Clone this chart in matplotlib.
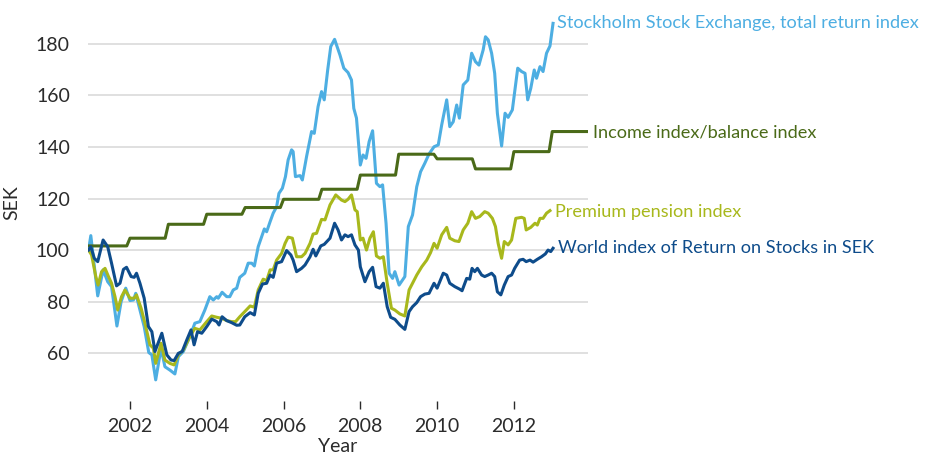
import matplotlib

matplotlib.use("Agg")
import matplotlib.pyplot as plt
import numpy as np

plt.rcParams["font.family"] = ["Lato", "DejaVu Sans"]

# Stockholm Stock Exchange, total return index
sx_years = [2000.92, 2000.98, 2001.16, 2001.30, 2001.42, 2001.52, 2001.66, 2001.77,
            2001.89, 2002.00, 2002.09, 2002.15, 2002.26, 2002.37, 2002.49, 2002.57,
            2002.67, 2002.81, 2002.91, 2003.04, 2003.17, 2003.26, 2003.39, 2003.56,
            2003.69, 2003.82, 2003.95, 2004.08, 2004.17, 2004.26, 2004.30, 2004.40,
            2004.52, 2004.60, 2004.69, 2004.78, 2004.86, 2004.99, 2005.08, 2005.17,
            2005.24, 2005.34, 2005.50, 2005.56, 2005.65, 2005.73, 2005.82, 2005.88,
            2005.97, 2006.05, 2006.12, 2006.21, 2006.25, 2006.31, 2006.43, 2006.49,
            2006.60, 2006.73, 2006.80, 2006.90, 2006.99, 2007.06, 2007.15, 2007.23,
            2007.33, 2007.47, 2007.57, 2007.68, 2007.77, 2007.83, 2007.90, 2008.00,
            2008.07, 2008.15, 2008.23, 2008.32, 2008.42, 2008.51, 2008.58, 2008.67,
            2008.75, 2008.84, 2008.90, 2009.01, 2009.16, 2009.25, 2009.36, 2009.47,
            2009.57, 2009.68, 2009.79, 2009.92, 2010.03, 2010.12, 2010.25, 2010.33,
            2010.42, 2010.51, 2010.58, 2010.68, 2010.80, 2010.90, 2011.00, 2011.09,
            2011.20, 2011.26, 2011.33, 2011.42, 2011.50, 2011.57, 2011.68, 2011.77,
            2011.85, 2011.96, 2012.10, 2012.20, 2012.29, 2012.36, 2012.44, 2012.53,
            2012.59, 2012.68, 2012.76, 2012.85, 2012.94, 2013.02]
sx_vals = [100.0, 105.6, 82.2, 92.3, 87.7, 85.8, 70.5, 80.0,
           85.2, 80.4, 80.6, 83.2, 76.7, 70.3, 60.2, 59.3,
           49.6, 61.9, 54.7, 53.4, 51.9, 58.6, 60.6, 66.4,
           71.6, 72.2, 76.7, 81.9, 80.6, 81.9, 81.3, 83.6,
           81.9, 81.9, 84.5, 85.2, 89.4, 91.0, 94.9, 94.9,
           93.8, 101.3, 108.2, 107.1, 111.0, 114.3, 116.8, 122.0,
           124.0, 128.5, 135.0, 138.9, 138.2, 128.5, 128.9, 127.2,
           136.3, 146.0, 145.3, 155.7, 161.5, 158.3, 169.9, 179.0,
           181.8, 175.7, 170.6, 168.9, 166.0, 155.0, 151.2, 133.0,
           136.9, 135.6, 142.1, 146.3, 125.9, 124.6, 125.3, 110.4,
           91.0, 89.0, 91.6, 86.4, 89.7, 109.1, 113.6, 124.6,
           130.4, 133.7, 137.3, 140.1, 140.8, 148.6, 158.3, 147.9,
           149.8, 156.3, 151.2, 164.1, 166.0, 176.4, 173.1, 171.8,
           177.7, 182.8, 181.6, 176.4, 168.6, 153.1, 140.4, 153.1,
           151.5, 154.4, 170.6, 169.3, 168.6, 158.3, 162.8, 169.9,
           166.7, 171.2, 169.3, 176.4, 179.2, 188.0]

# World index of Return on Stocks in SEK
wd_years = [2000.92, 2000.98, 2001.07, 2001.16, 2001.30, 2001.42, 2001.52, 2001.65,
            2001.74, 2001.83, 2001.91, 2002.03, 2002.11, 2002.17, 2002.26, 2002.37,
            2002.48, 2002.57, 2002.65, 2002.83, 2002.96, 2003.07, 2003.15, 2003.26,
            2003.36, 2003.48, 2003.59, 2003.67, 2003.76, 2003.87, 2004.00, 2004.13,
            2004.26, 2004.32, 2004.40, 2004.52, 2004.65, 2004.78, 2004.86, 2004.99,
            2005.13, 2005.24, 2005.34, 2005.45, 2005.56, 2005.65, 2005.73, 2005.82,
            2005.95, 2006.08, 2006.19, 2006.25, 2006.34, 2006.47, 2006.56, 2006.69,
            2006.77, 2006.84, 2006.97, 2007.06, 2007.21, 2007.33, 2007.42, 2007.51,
            2007.60, 2007.68, 2007.77, 2007.86, 2007.95, 2008.00, 2008.12, 2008.23,
            2008.32, 2008.41, 2008.51, 2008.60, 2008.70, 2008.79, 2008.90, 2009.03,
            2009.16, 2009.27, 2009.36, 2009.47, 2009.57, 2009.68, 2009.79, 2009.92,
            2010.00, 2010.16, 2010.25, 2010.33, 2010.46, 2010.59, 2010.65, 2010.77,
            2010.85, 2010.91, 2010.98, 2011.05, 2011.16, 2011.24, 2011.33, 2011.42,
            2011.50, 2011.57, 2011.66, 2011.75, 2011.85, 2011.94, 2012.02, 2012.15,
            2012.24, 2012.32, 2012.42, 2012.50, 2012.61, 2012.72, 2012.82, 2012.89,
            2012.96, 2013.02]
wd_vals = [100.0, 101.3, 96.8, 95.5, 103.9, 101.3, 94.9, 86.1,
           87.1, 92.5, 93.3, 89.7, 89.4, 91.0, 87.1, 81.3,
           70.3, 68.3, 60.6, 67.7, 59.3, 57.3, 57.1, 59.9,
           60.6, 65.1, 69.0, 63.2, 68.3, 67.7, 70.3, 73.2,
           72.2, 70.9, 74.1, 72.6, 71.8, 70.8, 70.9, 74.1,
           75.7, 74.8, 83.2, 86.8, 87.1, 90.3, 89.4, 94.9,
           95.5, 99.8, 98.1, 96.1, 91.6, 92.9, 94.2, 97.4,
           100.3, 97.7, 101.6, 102.2, 104.6, 110.4, 107.8, 103.9,
           105.9, 105.2, 105.9, 102.0, 100.0, 93.5, 87.7, 91.6,
           93.3, 85.8, 85.2, 87.1, 78.0, 73.9, 73.1, 70.9,
           69.2, 76.1, 78.0, 79.6, 81.9, 82.9, 83.2, 87.1,
           85.2, 91.0, 90.3, 87.1, 85.8, 84.8, 84.2, 89.0,
           88.7, 92.9, 91.6, 92.9, 90.3, 89.7, 90.3, 91.0,
           89.7, 83.8, 82.6, 86.4, 89.7, 90.3, 92.9, 96.1,
           96.4, 95.5, 96.1, 95.3, 96.4, 97.4, 98.5, 100.0,
           99.4, 100.7]

# Premium pension index
pp_years = [2000.92, 2001.00, 2001.11, 2001.17, 2001.26, 2001.35, 2001.44, 2001.52,
            2001.61, 2001.68, 2001.78, 2001.87, 2002.00, 2002.11, 2002.17, 2002.29,
            2002.39, 2002.52, 2002.61, 2002.67, 2002.81, 2002.91, 2003.04, 2003.15,
            2003.26, 2003.39, 2003.56, 2003.69, 2003.82, 2004.00, 2004.13, 2004.26,
            2004.39, 2004.52, 2004.65, 2004.75, 2004.86, 2004.99, 2005.13, 2005.24,
            2005.34, 2005.47, 2005.56, 2005.65, 2005.73, 2005.82, 2005.95, 2006.04,
            2006.12, 2006.23, 2006.34, 2006.47, 2006.56, 2006.69, 2006.77, 2006.86,
            2006.99, 2007.08, 2007.21, 2007.36, 2007.51, 2007.60, 2007.68, 2007.77,
            2007.86, 2007.92, 2008.00, 2008.07, 2008.16, 2008.25, 2008.34, 2008.42,
            2008.51, 2008.60, 2008.70, 2008.81, 2008.90, 2009.03, 2009.16, 2009.27,
            2009.36, 2009.47, 2009.60, 2009.73, 2009.83, 2009.92, 2010.00, 2010.12,
            2010.25, 2010.33, 2010.46, 2010.57, 2010.68, 2010.80, 2010.90, 2011.00,
            2011.11, 2011.24, 2011.33, 2011.44, 2011.52, 2011.59, 2011.68, 2011.75,
            2011.85, 2011.94, 2012.05, 2012.20, 2012.27, 2012.32, 2012.44, 2012.55,
            2012.61, 2012.68, 2012.76, 2012.85, 2012.94]
pp_vals = [100.0, 98.1, 89.7, 86.4, 91.6, 92.9, 89.7, 87.1,
           81.9, 76.7, 81.9, 84.5, 81.3, 81.3, 82.6, 77.4,
           71.6, 63.2, 61.9, 56.0, 63.8, 57.3, 56.0, 55.4,
           59.3, 61.2, 66.4, 69.6, 69.0, 72.2, 74.4, 73.9,
           73.5, 72.6, 72.2, 72.2, 74.1, 76.1, 78.3, 77.8,
           84.5, 88.7, 88.1, 92.3, 92.3, 96.1, 98.7, 102.6,
           105.0, 104.6, 97.4, 97.4, 98.7, 102.6, 106.2, 106.5,
           111.9, 111.7, 117.5, 121.4, 119.4, 118.8, 119.7, 121.4,
           115.6, 114.9, 103.9, 104.6, 100.0, 104.6, 107.1, 97.7,
           96.8, 97.4, 87.1, 77.4, 76.7, 75.2, 74.4, 84.5,
           87.1, 90.3, 93.5, 96.1, 99.0, 102.6, 100.7, 105.9,
           108.8, 104.6, 103.6, 103.3, 107.8, 110.4, 114.9, 112.3,
           113.0, 114.9, 114.3, 112.3, 109.1, 102.6, 96.8, 103.3,
           102.0, 103.9, 112.3, 112.7, 112.3, 107.8, 108.8, 110.4,
           109.7, 112.3, 112.3, 114.3, 115.3]

# Income index / balance index, one level per calendar year
inc_years = [2001, 2002, 2003, 2004, 2005, 2006, 2007, 2008, 2009, 2010, 2011, 2012, 2013]
inc_levels = [101.6, 104.6, 110.0, 113.9, 116.5, 119.7, 123.6, 129.1, 137.2, 135.4,
              131.5, 138.2, 146.0]

labels = ["Stockholm Stock Exchange, total return index",
          "Income index/balance index",
          "Premium pension index",
          "World index of Return on Stocks in SEK"]

C_SX = "#4DAEE2"
C_INC = "#4A6A18"
C_PP = "#A8B81C"
C_WD = "#0E4C8B"
TXT = "#2b2b2b"

X0, X1 = 2000.906, 2013.93


def income_steps():
    xs, ys = [], []
    for i, (yr, lv) in enumerate(zip(inc_years, inc_levels)):
        start = X0 if i == 0 else yr
        end = X1 if i == len(inc_years) - 1 else yr + 11 / 12
        xs += [start, end]
        ys += [lv, lv]
    return xs, ys


fig = plt.figure(figsize=(9.28, 4.55), dpi=100)
ax = fig.add_axes([0.0948, 0.1187, 0.5388, 0.8413])

ix, iy = income_steps()
ax.plot(sx_years, sx_vals, color=C_SX, lw=2.2, solid_joinstyle="round", zorder=3)
ax.plot(ix, iy, color=C_INC, lw=2.2, zorder=4)
ax.plot(pp_years, pp_vals, color=C_PP, lw=2.2, solid_joinstyle="round", zorder=5)
ax.plot(wd_years, wd_vals, color=C_WD, lw=2.2, solid_joinstyle="round", zorder=6)

ax.set_xlim(X0, X1)
ax.set_ylim(41.4, 190)
ax.set_yticks([60, 80, 100, 120, 140, 160, 180])
ax.set_xticks([2002, 2004, 2006, 2008, 2010, 2012])
ax.grid(axis="y", color="#e0e0e0", lw=1.4, zorder=0)
ax.set_axisbelow(True)
for s in ax.spines.values():
    s.set_visible(False)
ax.tick_params(axis="y", length=0, pad=13, labelsize=14, labelcolor=TXT)
ax.tick_params(axis="x", length=6, width=1, color=TXT, direction="out", pad=6,
               labelsize=14, labelcolor=TXT)

fig.text(0.3642, 0.0176, "Year", ha="center", va="center", fontsize=14, color=TXT)
fig.text(0.013, 0.555, "SEK", ha="center", va="center", rotation=90, fontsize=14,
         color=TXT)

lab_kw = dict(fontsize=13.1, va="center", ha="left", clip_on=False)
ax.text(2013.12, 188.2, labels[0], color=C_SX, **lab_kw)
ax.text(2014.06, 145.8, labels[1], color=C_INC, **lab_kw)
ax.text(2013.07, 114.8, labels[2], color=C_PP, **lab_kw)
ax.text(2013.15, 100.8, labels[3], color=C_WD, **lab_kw)

fig.savefig("out.png", dpi=100)
